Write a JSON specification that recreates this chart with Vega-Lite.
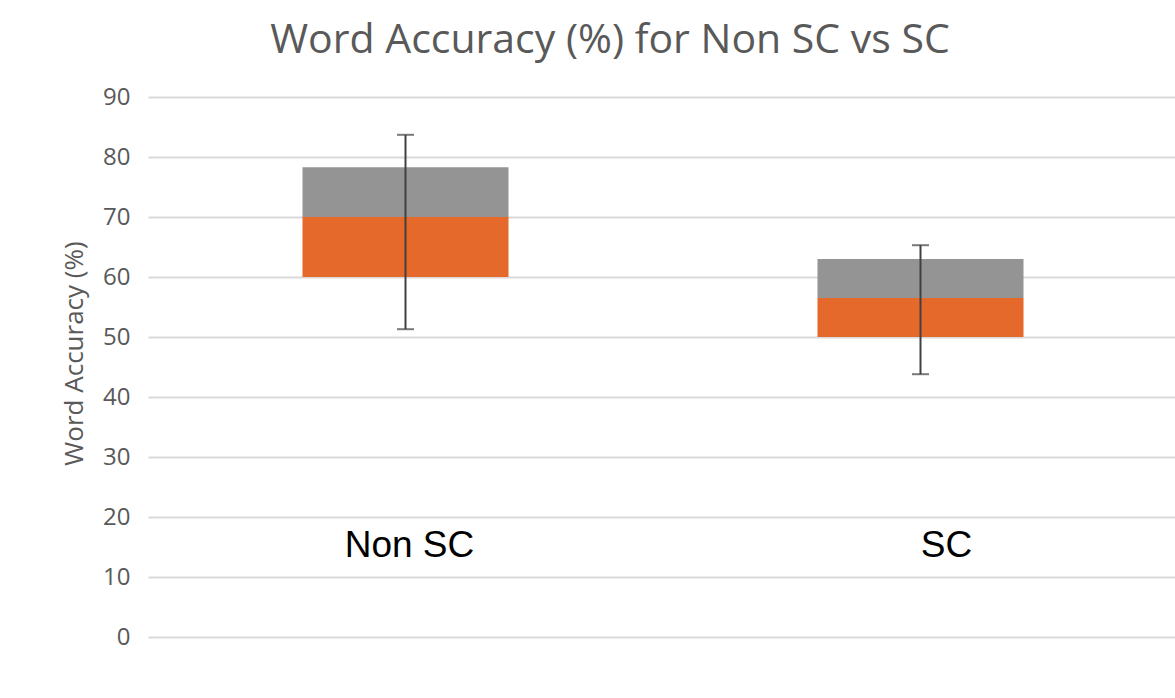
{
  "$schema": "https://vega.github.io/schema/vega-lite/v6.json",
  "width": 1030,
  "height": 540,
  "autosize": {"type": "none"},
  "padding": {"left": 148, "top": 97, "right": 0, "bottom": 61},
  "background": "white",
  "title": {
    "text": "Word Accuracy (%) for Non SC vs SC",
    "font": "Open Sans",
    "fontSize": 41,
    "fontWeight": "normal",
    "color": "#595959",
    "anchor": "middle",
    "dx": -53,
    "offset": 23
  },
  "config": {
    "view": {"stroke": null},
    "axis": {"labelFont": "Open Sans", "titleFont": "Open Sans"}
  },
  "data": {
    "values": [
      {"group": "Non SC", "q1": 60, "median": 70, "q3": 78.3, "low": 51.3, "high": 83.7},
      {"group": "SC", "q1": 50, "median": 56.5, "q3": 63, "low": 43.8, "high": 65.3}
    ]
  },
  "encoding": {
    "x": {
      "field": "group",
      "type": "nominal",
      "sort": ["Non SC", "SC"],
      "scale": {"paddingInner": 0, "paddingOuter": 0},
      "axis": null
    }
  },
  "layer": [
    {
      "mark": {"type": "bar", "color": "#E5692A", "width": {"band": 0.4}},
      "encoding": {
        "y": {
          "field": "q1",
          "type": "quantitative",
          "scale": {"domain": [0, 90], "nice": false},
          "axis": {
            "title": "Word Accuracy (%)",
            "titleFontSize": 26,
            "titleFontWeight": "normal",
            "titleColor": "#595959",
            "titlePadding": 15,
            "titleY": 256,
            "values": [0, 10, 20, 30, 40, 50, 60, 70, 80, 90],
            "labelFontSize": 24,
            "labelColor": "#595959",
            "labelPadding": 18,
            "ticks": false,
            "domain": false,
            "grid": true,
            "gridColor": "#d9d9d9",
            "gridWidth": 2
          }
        },
        "y2": {"field": "median"}
      }
    },
    {
      "mark": {"type": "bar", "color": "#949494", "width": {"band": 0.4}},
      "encoding": {
        "y": {"field": "median", "type": "quantitative"},
        "y2": {"field": "q3"}
      }
    },
    {
      "mark": {"type": "rule", "color": "#404040", "strokeWidth": 2},
      "encoding": {
        "y": {"field": "low", "type": "quantitative"},
        "y2": {"field": "high"}
      }
    },
    {
      "mark": {"type": "tick", "color": "#404040", "thickness": 2, "size": 17},
      "encoding": {"y": {"field": "low", "type": "quantitative"}}
    },
    {
      "mark": {"type": "tick", "color": "#404040", "thickness": 2, "size": 17},
      "encoding": {"y": {"field": "high", "type": "quantitative"}}
    },
    {
      "transform": [{"filter": "datum.group === 'Non SC'"}],
      "mark": {"type": "text", "font": "Liberation Sans", "fontSize": 37, "color": "black", "baseline": "alphabetic", "align": "center", "dx": 4},
      "encoding": {
        "y": {"datum": 13.3, "type": "quantitative"},
        "text": {"field": "group"}
      }
    },
    {
      "transform": [{"filter": "datum.group === 'SC'"}],
      "mark": {"type": "text", "font": "Liberation Sans", "fontSize": 37, "color": "black", "baseline": "alphabetic", "align": "center", "dx": 26},
      "encoding": {
        "y": {"datum": 13.3, "type": "quantitative"},
        "text": {"field": "group"}
      }
    }
  ]
}
